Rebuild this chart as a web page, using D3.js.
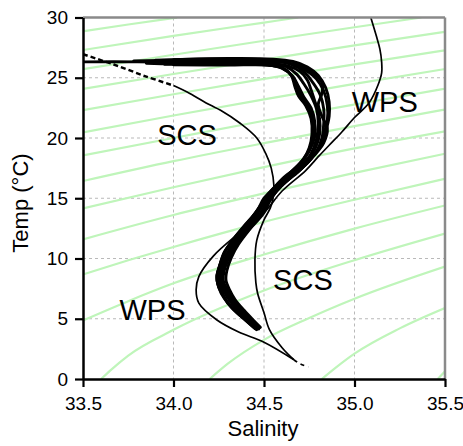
<!DOCTYPE html>
<html>
<head>
<meta charset="utf-8">
<script src="https://cdn.jsdelivr.net/npm/d3@7"></script>
<style>
  body { margin: 0; background: #fff; }
  text { font-family: "Liberation Sans", Arial, sans-serif; }
</style>
</head>
<body>
<div class="canvas"></div>
<script>
// Set dimensions & margins
const margin = { top: 17.5, right: 18, bottom: 67, left: 83 };
const width = 463 - margin.left - margin.right;
const height = 446 - margin.top - margin.bottom;

// Tick labels
const salinityTicks = [33.5, 34.0, 34.5, 35.0, 35.5];
const tempTicks = [0, 5, 10, 15, 20, 25, 30];

// Isopycnals (sigma-theta 21.0 ... 28.5, step 0.5), [salinity, temp]
const isopycnals = [
  [[33.5, 28.85], [33.75, 29.42], [34.02, 30.0]],
  [[33.5, 27.3], [34.0, 28.47], [34.5, 29.58], [34.69, 30.0]],
  [[33.5, 25.72], [34.0, 26.91], [34.5, 28.07], [35.0, 29.19], [35.37, 30.0]],
  [[33.5, 24.07], [34.0, 25.31], [34.5, 26.51], [35.0, 27.68], [35.5, 28.81]],
  [[33.5, 22.31], [34.0, 23.63], [34.5, 24.9], [35.0, 26.11], [35.5, 27.28]],
  [[33.5, 20.46], [34.0, 21.87], [34.5, 23.21], [35.0, 24.49], [35.5, 25.72]],
  [[33.5, 18.56], [34.0, 20.0], [34.5, 21.43], [35.0, 22.78], [35.5, 24.09]],
  [[33.5, 16.43], [34.0, 18.08], [34.5, 19.57], [35.0, 20.99], [35.5, 22.36]],
  [[33.5, 14.16], [34.0, 15.91], [34.5, 17.58], [35.0, 19.14], [35.5, 20.55]],
  [[33.5, 11.59], [34.0, 13.61], [34.5, 15.4], [35.0, 17.1], [35.5, 18.69]],
  [[33.5, 8.67], [33.75, 9.85], [34.0, 10.96], [34.5, 13.04], [35.0, 14.88], [35.5, 16.62]],
  [[33.5, 4.86], [33.75, 6.46], [34.0, 7.94], [34.5, 10.33], [35.0, 12.48], [35.5, 14.4]],
  [[33.6, 0], [33.65, 0.7], [33.75, 1.95], [34.0, 4.08], [34.5, 7.34], [35.0, 9.86], [35.5, 12.07]],
  [[34.2, 0], [34.3, 1.27], [34.5, 3.25], [34.75, 5.06], [35.0, 6.66], [35.5, 9.33]],
  [[34.82, 0], [34.9, 0.98], [35.0, 2.1], [35.25, 4.2], [35.5, 5.89]],
  [[35.46, 0], [35.5, 0.64]]
];

// SCS mean profile
const scsSurfaceDashed = [[33.5, 26.95], [33.67, 26.1], [33.85, 25.1], [34.0, 24.35]];
const scsProfile = [
  [34.0, 24.35], [34.09, 23.7], [34.2, 22.75], [34.26, 22.3], [34.37, 21.2], [34.46, 20.0],
  [34.51, 18.7], [34.54, 17.5], [34.555, 16.0], [34.55, 15.0], [34.535, 14.2], [34.5, 13.2],
  [34.46, 11.5], [34.45, 9.9], [34.455, 8.0], [34.465, 7.1], [34.5, 5.5], [34.53, 4.1],
  [34.6, 2.6], [34.665, 1.6]
];
// WPS mean profile
const wpsProfile = [
  [35.09, 30.0], [35.12, 28.5], [35.14, 27.4], [35.15, 26.3], [35.15, 25.4], [35.13, 24.4], [35.08, 22.9],
  [35.0, 21.7], [34.93, 20.5], [34.86, 19.4], [34.8, 18.45], [34.73, 17.3], [34.6, 15.6],
  [34.5, 13.8], [34.37, 12.2], [34.22, 10.2], [34.14, 8.5], [34.125, 7.4], [34.14, 6.3],
  [34.24, 4.9], [34.36, 3.9], [34.5, 3.05], [34.665, 1.6]
];
const deepDashed = [[34.665, 1.6], [34.7, 1.25], [34.745, 1.0]];

// Observed profiles (thick bundle)
const bundleProfiles = [
  [[34.0, 26.5], [34.3, 26.6], [34.55, 26.55], [34.66, 26.35], [34.74, 25.9], [34.8, 25.2], [34.84, 24.2],
   [34.86, 23.0], [34.86, 21.8], [34.84, 20.5], [34.81, 19.3], [34.76, 18.3], [34.69, 17.2], [34.6, 16.1],
   [34.54, 15.0], [34.5, 13.8], [34.42, 12.4], [34.36, 11.2], [34.32, 10.1], [34.295, 9.0], [34.29, 8.2],
   [34.31, 7.4], [34.34, 6.6], [34.39, 5.7], [34.44, 4.9], [34.48, 4.3]],
  [[33.9, 26.45], [34.2, 26.55], [34.5, 26.5], [34.63, 26.25], [34.72, 25.7], [34.79, 24.9], [34.83, 23.9],
   [34.85, 22.7], [34.85, 21.5], [34.83, 20.3], [34.8, 19.1], [34.745, 18.0], [34.67, 17.0], [34.59, 15.95],
   [34.53, 14.9], [34.49, 13.7], [34.41, 12.3], [34.345, 11.1], [34.305, 10.0], [34.28, 9.0], [34.275, 8.2],
   [34.3, 7.3], [34.335, 6.45], [34.385, 5.55], [34.435, 4.8], [34.475, 4.25]],
  [[33.78, 26.4], [34.0, 26.45], [34.3, 26.5], [34.55, 26.4], [34.65, 26.1], [34.72, 25.5], [34.77, 24.6],
   [34.81, 23.6], [34.83, 22.4], [34.83, 21.2], [34.82, 20.0], [34.79, 18.9], [34.73, 17.8], [34.65, 16.8],
   [34.58, 15.8], [34.52, 14.8], [34.47, 13.5], [34.39, 12.2], [34.33, 11.0], [34.29, 9.9], [34.27, 8.9],
   [34.265, 8.1], [34.29, 7.2], [34.33, 6.3], [34.38, 5.4], [34.43, 4.7], [34.47, 4.2]],
  [[33.5, 26.32], [33.8, 26.32], [34.0, 26.3], [34.3, 26.3], [34.52, 26.25], [34.62, 25.95], [34.68, 25.3],
   [34.72, 24.5], [34.76, 23.5], [34.79, 22.4], [34.8, 21.2], [34.79, 19.9], [34.76, 18.7], [34.7, 17.6],
   [34.62, 16.6], [34.56, 15.7], [34.5, 14.6], [34.45, 13.4], [34.37, 12.0], [34.31, 10.8], [34.275, 9.7],
   [34.255, 8.7], [34.25, 8.2], [34.27, 7.5], [34.31, 6.5], [34.36, 5.6], [34.42, 4.8], [34.47, 4.15]],
  [[34.1, 26.35], [34.4, 26.4], [34.6, 26.3], [34.7, 26.0], [34.77, 25.4], [34.82, 24.6], [34.82, 23.7],
   [34.8, 22.8], [34.82, 21.8], [34.85, 20.8], [34.83, 19.6], [34.78, 18.6], [34.71, 17.5], [34.63, 16.5],
   [34.56, 15.4], [34.51, 14.3], [34.44, 13.0], [34.37, 11.8], [34.31, 10.6], [34.28, 9.5], [34.26, 8.5],
   [34.27, 7.8], [34.3, 7.0], [34.35, 6.0], [34.41, 5.1], [34.46, 4.4]],
  [[34.2, 26.25], [34.5, 26.2], [34.64, 25.95], [34.7, 25.5], [34.74, 24.8], [34.76, 24.0], [34.78, 23.1],
   [34.8, 22.2], [34.81, 21.0], [34.8, 19.8], [34.77, 18.8], [34.72, 17.9], [34.64, 16.9], [34.57, 15.9]],
  [[33.85, 26.2], [34.0, 26.15], [34.3, 26.15], [34.5, 26.1], [34.6, 25.8], [34.66, 25.1], [34.69, 24.3],
   [34.72, 23.4], [34.76, 22.5], [34.78, 21.4], [34.78, 20.1], [34.75, 18.9], [34.69, 17.7], [34.6, 16.6],
   [34.54, 15.6], [34.49, 14.6], [34.43, 13.3], [34.35, 11.9], [34.29, 10.7], [34.26, 9.6], [34.24, 8.6],
   [34.245, 7.9], [34.27, 7.1], [34.3, 6.3], [34.35, 5.5], [34.41, 4.75], [34.46, 4.1]],
  [[33.95, 26.12], [34.3, 26.1], [34.5, 26.08], [34.6, 25.85], [34.655, 25.15], [34.68, 24.3], [34.705, 23.45],
   [34.745, 22.6], [34.77, 21.5], [34.772, 20.2], [34.75, 19.05], [34.705, 18.0], [34.67, 17.45], [34.585, 16.3],
   [34.52, 15.3], [34.475, 14.25], [34.41, 13.0], [34.34, 11.75], [34.285, 10.6], [34.257, 9.5], [34.24, 8.5],
   [34.247, 7.75], [34.275, 6.9], [34.315, 6.05], [34.37, 5.25], [34.43, 4.45], [34.455, 4.15]],
  [[34.0, 26.08], [34.3, 26.05], [34.52, 26.05], [34.6, 25.8], [34.65, 25.2], [34.67, 24.3], [34.69, 23.5],
   [34.73, 22.7], [34.76, 21.6], [34.765, 20.3], [34.75, 19.2], [34.72, 18.3], [34.65, 17.2], [34.57, 16.0],
   [34.5, 15.0], [34.46, 13.9], [34.39, 12.7], [34.33, 11.6], [34.28, 10.5], [34.255, 9.4], [34.24, 8.4],
   [34.25, 7.6], [34.28, 6.7], [34.33, 5.8], [34.39, 5.0], [34.45, 4.2]]
];

// Water-mass labels [text, salinity, temp at baseline]
const annotations = [
  ["SCS", 34.075, 19.4],
  ["WPS", 35.167, 22.16],
  ["SCS", 34.715, 7.39],
  ["WPS", 33.884, 4.9]
];

// Set up x & y scales
const x = d3.scaleLinear().domain([33.5, 35.5]).range([0, width]);
const y = d3.scaleLinear().domain([0, 30]).range([height, 0]);

const svg = d3.select(".canvas")
    .append("svg")
        .attr("width", width + margin.left + margin.right)
        .attr("height", height + margin.top + margin.bottom)
    .append("g")
        .attr("transform", `translate(${margin.left}, ${margin.top})`);

svg.append("clipPath").attr("id", "plot-clip")
    .append("rect").attr("width", width).attr("height", height);

// grid
svg.selectAll(".vgrid")
    .data(salinityTicks.slice(1, -1))
    .join("line")
    .attr("x1", d => x(d)).attr("x2", d => x(d))
    .attr("y1", 0).attr("y2", height)
    .attr("stroke", "#b9b9b9").attr("stroke-dasharray", "3,3");

svg.selectAll(".hgrid")
    .data(tempTicks.slice(1, -1))
    .join("line")
    .attr("x1", 0).attr("x2", width)
    .attr("y1", d => y(d)).attr("y2", d => y(d))
    .attr("stroke", "#b9b9b9").attr("stroke-dasharray", "3,3");

const plot = svg.append("g").attr("clip-path", "url(#plot-clip)");

// isopycnals
const smooth = d3.line().x(d => x(d[0])).y(d => y(d[1])).curve(d3.curveMonotoneX);
plot.selectAll(".iso")
    .data(isopycnals)
    .join("path")
    .attr("fill", "none")
    .attr("stroke", "#bff5ba")
    .attr("stroke-width", 2.2)
    .attr("d", smooth);

// profiles
const profileLine = d3.line().x(d => x(d[0])).y(d => y(d[1])).curve(d3.curveCatmullRom.alpha(0.5));

plot.selectAll(".bundle")
    .data(bundleProfiles)
    .join("path")
    .attr("fill", "none")
    .attr("stroke", "#000")
    .attr("stroke-width", 2.9)
    .attr("stroke-linecap", "round")
    .attr("stroke-linejoin", "round")
    .attr("d", profileLine);

plot.append("path")
    .datum(scsProfile)
    .attr("fill", "none").attr("stroke", "#000").attr("stroke-width", 1.7)
    .attr("d", profileLine);

plot.append("path")
    .datum(wpsProfile)
    .attr("fill", "none").attr("stroke", "#000").attr("stroke-width", 1.7)
    .attr("d", profileLine);

plot.append("path")
    .datum(scsSurfaceDashed)
    .attr("fill", "none").attr("stroke", "#000").attr("stroke-width", 2.4)
    .attr("stroke-dasharray", "5,3")
    .attr("d", profileLine);

plot.append("path")
    .datum(deepDashed)
    .attr("fill", "none").attr("stroke", "#000").attr("stroke-width", 1.7)
    .attr("stroke-dasharray", "4,4")
    .attr("d", profileLine);

// frame: top & right in grey
svg.append("line").attr("x1", 0).attr("x2", width).attr("y1", 0).attr("y2", 0)
    .attr("stroke", "#8a8a8a").attr("stroke-width", 2.5);
svg.append("line").attr("x1", width).attr("x2", width).attr("y1", 0).attr("y2", height)
    .attr("stroke", "#8a8a8a").attr("stroke-width", 2.5);

// add x-axis
const xAxis = svg.append("g")
    .attr("transform", `translate(0,${height})`)
    .call(d3.axisBottom(x).tickValues(salinityTicks).tickFormat(d3.format(".1f"))
        .tickSize(8).tickSizeOuter(0).tickPadding(10));

// add y-axis
const yAxis = svg.append("g")
    .call(d3.axisLeft(y).tickValues(tempTicks).tickSize(8).tickSizeOuter(0).tickPadding(7));

[xAxis, yAxis].forEach(a => {
    a.select(".domain").attr("stroke", "#000").attr("stroke-width", 2.5);
    a.selectAll(".tick line").attr("stroke", "#000").attr("stroke-width", 2.2);
    a.selectAll(".tick text")
        .attr("fill", "#000")
        .style("font-size", "19px")
        .style("font-family", "'Liberation Sans', Arial, sans-serif");
});

// water-mass labels
svg.selectAll(".wm")
    .data(annotations)
    .join("text")
    .attr("x", d => x(d[1]))
    .attr("y", d => y(d[2]))
    .attr("text-anchor", "middle")
    .style("font-size", "29px")
    .text(d => d[0]);

// axis titles
svg.append("text")
    .attr("x", 180)
    .attr("y", 436 - margin.top)
    .attr("text-anchor", "middle")
    .style("font-size", "22px")
    .text("Salinity");

svg.append("text")
    .attr("transform", `translate(${28 - margin.left}, ${203 - margin.top}) rotate(-90)`)
    .attr("text-anchor", "middle")
    .style("font-size", "22px")
    .text("Temp (°C)");
</script>
</body>
</html>
